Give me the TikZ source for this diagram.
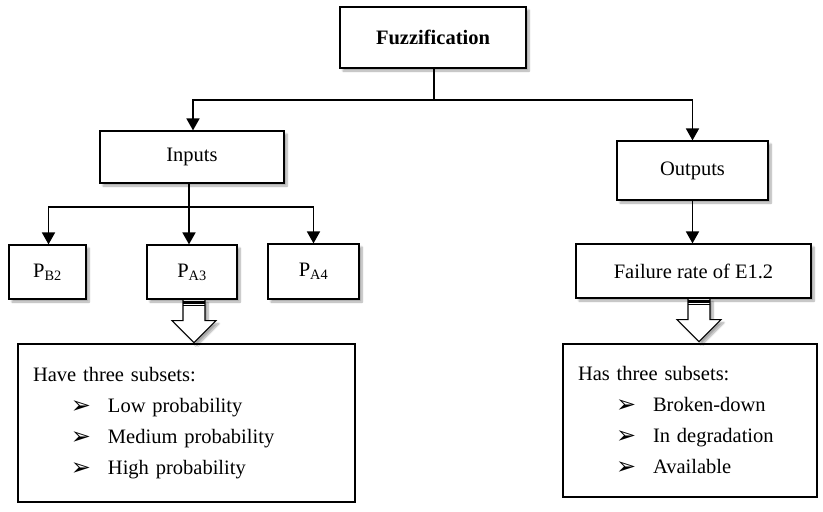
\documentclass[tikz,border=0pt]{standalone}
\usepackage{fontspec}
\setmainfont{Liberation Serif}
\newfontfamily\dejavu{DejaVu Sans}
\usetikzlibrary{arrows.meta,shadows.blur,calc}
\newcommand{\subsetitem}[1]{\hspace*{38pt}\makebox[37pt][l]{\raisebox{-1pt}{\dejavu\fontsize{24}{24}\selectfont ➢}}#1}
\tikzset{
    plain-box/.style = {draw=black, fill=white, line width=1.2pt, rectangle, inner sep=0pt, blur shadow={shadow xshift=3pt, shadow yshift=-3pt, shadow blur steps=8, shadow opacity=35}, font=\fontsize{20.5}{24}\selectfont},
    list-box/.style = {draw=black, fill=white, line width=1.2pt, rectangle, inner xsep=15pt, inner ysep=0pt, align=left, font=\fontsize{20.5}{31}\selectfont},
    tree-line/.style = {line width=1.8pt},
    tree-arrow/.style = {line width=1.8pt, -{Triangle[length=12pt,width=13pt]}},
    block-arrow/.style = {draw=black, fill=white, line width=1.2pt, line join=miter, blur shadow={shadow xshift=3pt, shadow yshift=-3pt, shadow blur steps=8, shadow opacity=35}},
}

\begin{document}
\begin{tikzpicture}[x=1pt,y=-1pt]
\useasboundingbox (0,0) rectangle (823,512);

% top of the tree
\node[plain-box, minimum width=186pt, minimum height=61pt] (fuzz) at (433,37.5) {\textbf{Fuzzification}};
\node[plain-box, minimum width=184pt, minimum height=52pt] (inputs) at (192,157) {Inputs};
\node[plain-box, minimum width=151pt, minimum height=59pt] (outputs) at (692.5,170.5) {Outputs};

% inputs
\node[plain-box, minimum width=77pt, minimum height=54pt] (pb2) at (47.5,272) {P\textsubscript{B2}};
\node[plain-box, minimum width=90pt, minimum height=54pt] (pa3) at (192,272) {P\textsubscript{A3}};
\node[plain-box, minimum width=91pt, minimum height=55pt] (pa4) at (313.5,271.5) {P\textsubscript{A4}};

% output
\node[plain-box, minimum width=235pt, minimum height=54pt] (failure) at (693.5,271) {Failure rate of E1.2};

% subsets
\node[list-box, text width=307pt, minimum height=158pt] (in-subsets) at (186.5,423) {Have three subsets:\\
\subsetitem{Low probability}\\
\subsetitem{Medium probability}\\
\subsetitem{High probability}};
\node[list-box, text width=224pt, minimum height=153pt] (out-subsets) at (690,420.5) {Has three subsets:\\
\subsetitem{Broken-down}\\
\subsetitem{In degradation}\\
\subsetitem{Available}};

% connectors
\coordinate (top-bus) at (434,100);
\coordinate (in-bus) at (189,207);
\draw[tree-line] (fuzz.south -| top-bus) -- (top-bus);
\draw[tree-arrow] (top-bus) -| ([xshift=1pt]inputs.north);
\draw[tree-arrow] (top-bus) -| (outputs.north);
\draw[tree-line] (inputs.south -| in-bus) -- (in-bus);
\draw[tree-arrow] (in-bus) -| ([xshift=1pt]pb2.north);
\draw[tree-arrow] (in-bus) -- (in-bus |- pa3.north);
\draw[tree-arrow] (in-bus) -| (pa4.north);
\draw[tree-arrow] (outputs.south) -- (outputs.south |- failure.north);

% block arrows
\draw[block-arrow] ($(pa3.south)+(-9pt,0)$) -- ++(0,-21pt) -- ++(-11pt,0) -- ++(22pt,-22pt) -- ++(22pt,22pt) -- ++(-11pt,0) -- ++(0,21pt) -- cycle;
\fill ($(pa3.south)+(-9pt,-1pt)$) rectangle ++(22pt,-3pt);
\draw[line width=0.8pt] ($(pa3.south)+(-9pt,-6pt)$) -- ++(22pt,0);
\draw[block-arrow] ($(failure.south)+(-5.5pt,0)$) -- ++(0,-21pt) -- ++(-11pt,0) -- ++(22pt,-22pt) -- ++(22pt,22pt) -- ++(-11pt,0) -- ++(0,21pt) -- cycle;
\fill ($(failure.south)+(-5.5pt,-1pt)$) rectangle ++(22pt,-3pt);
\draw[line width=0.8pt] ($(failure.south)+(-5.5pt,-6pt)$) -- ++(22pt,0);
\end{tikzpicture}
\end{document}
